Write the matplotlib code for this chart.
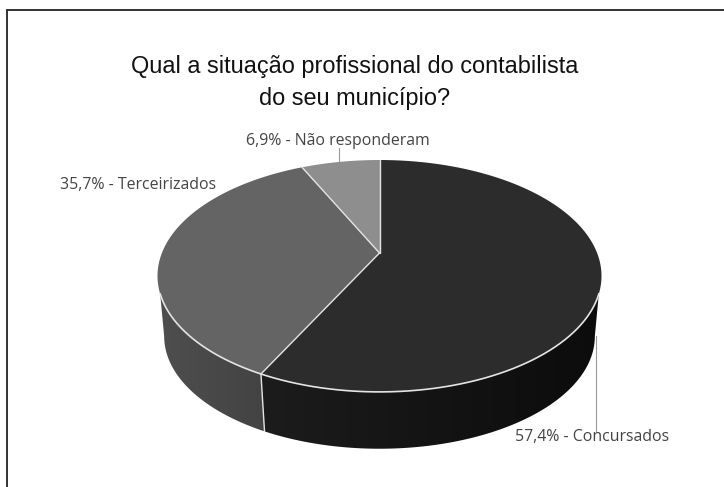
import numpy as np
import matplotlib
matplotlib.use('Agg')
import matplotlib.pyplot as plt
from matplotlib.colors import LinearSegmentedColormap
from matplotlib.patches import Polygon

# survey answers, clockwise from twelve o'clock
categories = ['Concursados', 'Terceirizados', 'Não responderam']
shares = [57.4, 35.7, 6.9]
share_labels = ['57,4%', '35,7%', '6,9%']
top_colors = ['#2c2c2c', '#646464', '#8e8e8e']
side_left = ['#1c1c1c', '#4e4e4e', '#8e8e8e']
side_right = ['#0c0c0c', '#434343', '#8e8e8e']

title_lines = ['Qual a situação profissional do contabilista', 'do seu município?']

# pie geometry in pixels, tilted with a slight perspective
cx, cy = 379.5, 253
half_w = 217.6
half_h = 111.4
persp = 0.198
shrink = 0.97
drop = 61


def rim_xy(theta, bottom=False):
    # theta in radians, clockwise from the top of the pie
    X, Y = np.sin(theta), np.cos(theta)
    w = 1 + persp * Y
    px = half_w * X / w
    py = half_h * Y / w
    if bottom:
        return cx + shrink * px, cy + drop - shrink * py
    return cx + px, cy - py


fig = plt.figure(figsize=(7.24, 4.87), dpi=100)
ax = fig.add_axes([0, 0, 1, 1])
ax.set_xlim(0, 724)
ax.set_ylim(487, 0)
ax.axis('off')

# frame, only the top and left sides are drawn
ax.plot([7, 7], [10, 487], color='#333333', lw=1.4)
ax.plot([7, 724], [10, 10], color='#333333', lw=1.4)

edges = np.concatenate([[0], np.cumsum(shares)]) / sum(shares) * 2 * np.pi

# the wall leaves the top rim a little below its widest point,
# and the lower rim is followed up to its own widest point
wall_start = 1.92
wall_end = 2 * np.pi - 1.92
floor_start = 1.77
floor_end = 2 * np.pi - 1.77

for i in range(len(shares)):
    a0, a1 = max(edges[i], wall_start), min(edges[i + 1], wall_end)
    if a1 <= a0:
        continue
    t = np.linspace(a0, a1, 120)
    t2 = np.linspace(min(edges[i + 1], floor_end), max(edges[i], floor_start), 120)
    x1, y1 = rim_xy(t)
    x2, y2 = rim_xy(t2, bottom=True)
    wall = Polygon(np.column_stack([np.r_[x1, x2], np.r_[y1, y2]]), closed=True,
                   fc='none', ec='none')
    ax.add_patch(wall)
    grad = np.linspace(0, 1, 256).reshape(1, -1)
    cmap = LinearSegmentedColormap.from_list('wall', [side_left[i], side_right[i]])
    im = ax.imshow(grad, cmap=cmap, aspect='auto', interpolation='bilinear',
                   extent=[min(x1.min(), x2.min()), max(x1.max(), x2.max()),
                           max(y1.max(), y2.max()), min(y1.min(), y2.min())])
    im.set_clip_path(wall)

# top face slices
for i in range(len(shares)):
    t = np.linspace(edges[i], edges[i + 1], 200)
    x, y = rim_xy(t)
    pts = np.column_stack([np.r_[cx, x], np.r_[cy, y]])
    ax.add_patch(Polygon(pts, closed=True, fc=top_colors[i], ec='none'))

# separators between slices
for e in edges[:-1]:
    x, y = rim_xy(e)
    ax.plot([cx, x], [cy, y], color='#e4e4e4', lw=1.0, solid_capstyle='round')

# light edge along the front of the rim and the seam on the wall
t = np.linspace(wall_start, wall_end, 300)
x, y = rim_xy(t)
ax.plot(x, y, color='#e4e4e4', lw=1.2)
sx, sy = rim_xy(edges[1])
bx, by = rim_xy(edges[1], bottom=True)
ax.plot([sx, bx], [sy, by], color='#e4e4e4', lw=1.0)

# leader lines
ax.plot([339, 339], [148, 161], color='#999999', lw=0.8)
ax.plot([596, 596], [336, 432], color='#999999', lw=0.8)

# title
for line, ty in zip(title_lines, [66, 98]):
    ax.text(355, ty, line, family='Liberation Sans', fontsize=16.9, color='#111111',
            ha='center', va='center')

# slice labels
label_pos = [(592.5, 437), (138.5, 185), (338, 141)]
for cat, lab, (lx, ly) in zip(categories, share_labels, label_pos):
    ax.text(lx, ly, lab + ' - ' + cat, family='Open Sans', fontsize=11.4, color='#444444',
            ha='center', va='center')

fig.savefig('out.png', dpi=100)
